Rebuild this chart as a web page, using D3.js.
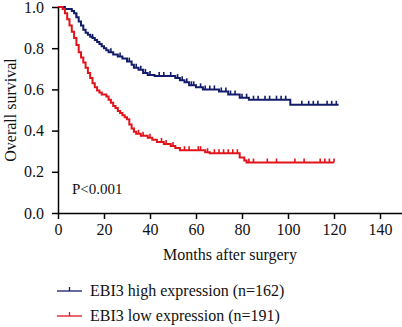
<!DOCTYPE html>
<html>
<head>
<meta charset="utf-8">
<script src="https://cdn.jsdelivr.net/npm/d3@7"></script>
<style>
  body { margin: 0; background: white; }
  svg { display: block; font-family: "Liberation Serif", "DejaVu Serif", serif; }
</style>
</head>
<body>
<script>
const width = 402;
const height = 327;
const margin = { top: 7, right: 0, bottom: 114, left: 58 };

// Kaplan-Meier steps (months, survival)
const highTimes = [0, 3, 6, 7, 8, 9, 10, 11, 12, 13, 14, 15, 16, 17, 18, 19, 20, 21, 22, 24, 26, 28, 30, 32, 33, 35, 37, 39, 42, 51, 53, 55, 57, 60, 63, 70, 74, 79, 83, 101, 122];
const highSurv = [1.0, 0.99, 0.98, 0.97, 0.95, 0.93, 0.91, 0.89, 0.875, 0.865, 0.855, 0.85, 0.84, 0.83, 0.82, 0.81, 0.8, 0.79, 0.78, 0.77, 0.76, 0.75, 0.735, 0.72, 0.705, 0.695, 0.68, 0.67, 0.665, 0.655, 0.645, 0.635, 0.62, 0.61, 0.6, 0.59, 0.575, 0.56, 0.55, 0.525, 0.525];
const highCensor = [8, 15, 23, 27, 31, 34, 36, 38, 40, 44, 46, 49, 52, 54, 56, 58, 59, 62, 64, 66, 68, 71, 73, 75, 77, 80, 82, 85, 87, 90, 92, 95, 97, 99, 106, 109, 111, 113, 117, 119, 121];

const lowTimes = [0, 2, 3, 4, 5, 6, 7, 8, 9, 10, 11, 12, 13, 14, 15, 16, 17, 18, 19, 21, 22, 23, 24, 25, 26, 27, 28, 29, 30, 31, 32, 33, 34, 36, 39, 41, 43, 46, 49, 51, 53, 64, 66, 79, 81, 82, 120];
const lowSurv = [1.0, 0.99, 0.97, 0.94, 0.91, 0.88, 0.85, 0.815, 0.78, 0.755, 0.73, 0.705, 0.68, 0.655, 0.63, 0.61, 0.595, 0.585, 0.575, 0.565, 0.55, 0.535, 0.52, 0.51, 0.495, 0.485, 0.475, 0.465, 0.455, 0.43, 0.41, 0.395, 0.385, 0.375, 0.365, 0.355, 0.345, 0.335, 0.325, 0.315, 0.305, 0.295, 0.29, 0.27, 0.255, 0.245, 0.245];
const lowCensor = [33, 35, 37, 40, 45, 47, 50, 55, 57, 61, 62, 65, 68, 70, 72, 74, 76, 78, 83, 85, 91, 95, 103, 107, 114, 116, 118, 120];

const xTicks = [0, 20, 40, 60, 80, 100, 120, 140];
const yTicks = [0, 0.2, 0.4, 0.6, 0.8, 1.0];

const groups = [
  { name: "EBI3 high expression (n=162)", times: highTimes, surv: highSurv, censor: highCensor, color: "#141c6c" },
  { name: "EBI3 low expression (n=191)", times: lowTimes, surv: lowSurv, censor: lowCensor, color: "#e1141c" }
];

const svg = d3.select("body").append("svg")
  .attr("width", width)
  .attr("height", height);

const x = d3.scaleLinear().domain([0, 150]).range([margin.left, width - margin.right + 1]);
const y = d3.scaleLinear().domain([0, 1]).range([height - margin.bottom, margin.top]);

// survival value at time t (step function)
function survAt(g, t) {
  let s = g.surv[0];
  for (let i = 0; i < g.times.length; i++) {
    if (g.times[i] <= t) s = g.surv[i];
  }
  return s;
}

const line = d3.line()
  .x(d => x(d[0]))
  .y(d => y(d[1]))
  .curve(d3.curveStepAfter);

groups.forEach(g => {
  const pts = g.times.map((t, i) => [t, g.surv[i]]);
  svg.append("path")
    .attr("d", line(pts))
    .attr("fill", "none")
    .attr("stroke", g.color)
    .attr("stroke-width", 2);

  svg.append("g")
    .selectAll("line")
    .data(g.censor)
    .join("line")
    .attr("x1", d => x(d))
    .attr("x2", d => x(d))
    .attr("y1", d => y(survAt(g, d)))
    .attr("y2", d => y(survAt(g, d)) - 4)
    .attr("stroke", g.color)
    .attr("stroke-width", 1.6);
});

// axes
const xAxis = d3.axisBottom(x).tickValues(xTicks).tickFormat(d3.format("d")).tickSize(6).tickPadding(5).tickSizeOuter(0);
const yAxis = d3.axisLeft(y).tickValues(yTicks).tickFormat(d3.format(".1f")).tickSize(6).tickPadding(8).tickSizeOuter(0);

const gx = svg.append("g")
  .attr("transform", `translate(0, ${y(0)})`)
  .call(xAxis);
const gy = svg.append("g")
  .attr("transform", `translate(${x(0)}, 0)`)
  .call(yAxis);

[gx, gy].forEach(a => {
  a.selectAll("path, line").attr("stroke", "#000").attr("stroke-width", 1.5);
  a.selectAll("text").attr("font-family", "Liberation Serif, serif").attr("font-size", 16).attr("fill", "#111");
});

svg.append("text")
  .attr("transform", `translate(16, ${y(0.5)}) rotate(-90)`)
  .attr("text-anchor", "middle")
  .attr("font-size", 16)
  .attr("fill", "#111")
  .text("Overall survival");

svg.append("text")
  .attr("x", 230)
  .attr("y", 260)
  .attr("text-anchor", "middle")
  .attr("font-size", 16)
  .attr("fill", "#111")
  .text("Months after surgery");

svg.append("text")
  .attr("x", 72)
  .attr("y", 194)
  .attr("font-size", 15)
  .attr("fill", "#111")
  .text("P<0.001");

// legend
const legend = svg.append("g").attr("transform", "translate(57, 291)");
groups.forEach((g, i) => {
  const row = legend.append("g").attr("transform", `translate(0, ${i * 25})`);
  row.append("line").attr("x1", 0).attr("x2", 25).attr("y1", 0).attr("y2", 0)
    .attr("stroke", g.color).attr("stroke-width", 1.3);
  row.append("line").attr("x1", 12.5).attr("x2", 12.5).attr("y1", 0).attr("y2", -4)
    .attr("stroke", g.color).attr("stroke-width", 1.3);
  row.append("text").attr("x", 33).attr("y", 5)
    .attr("font-size", 16)
    .attr("fill", "#111")
    .text(g.name);
});
</script>
</body>
</html>
